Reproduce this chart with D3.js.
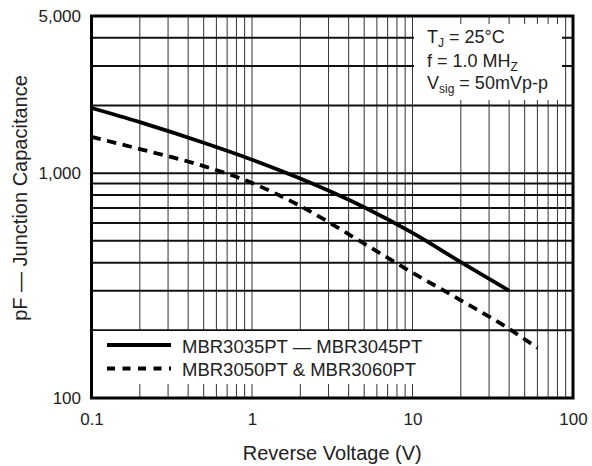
<!DOCTYPE html>
<html lang="en">
<head>
<meta charset="UTF-8">
<title>Junction Capacitance vs Reverse Voltage</title>
<script src="https://d3js.org/d3.v7.min.js"></script>
<style>
    body { margin: 0; background: #fff; }
    svg { display: block; font-family: "Liberation Sans", Arial, sans-serif; }
    .axis path, .axis line { display: none; }
    .axis text { font-size: 17px; fill: #222; font-family: "Liberation Sans", Arial, sans-serif; }
    .vgrid { stroke: #333; stroke-width: 1; }
    .hgrid { stroke: #111; stroke-width: 2; }
    .curve { fill: none; stroke: #000; stroke-width: 3.8; }
</style>
</head>
<body>
<div id="chart"></div>
<script>
// MBR3035PT — MBR3045PT (solid)
const voltsA = [0.1, 0.2, 0.5, 1, 2, 5, 10, 20, 40];
const capA   = [1950, 1686, 1365, 1148, 946, 705, 542, 402, 300];

// MBR3050PT & MBR3060PT (dashed)
const voltsB = [0.1, 0.2, 0.5, 1, 2, 5, 10, 20, 40, 60];
const capB   = [1450, 1280, 1075, 905, 714, 486, 361, 272, 203, 167];

const seriesNames = ['MBR3035PT \u2014 MBR3045PT', 'MBR3050PT & MBR3060PT'];

const xTickValues = [0.1, 1, 10, 100];
const xTickLabels = ['0.1', '1', '10', '100'];
const yTickValues = [100, 1000, 5000];
const yTickLabels = ['100', '1,000', '5,000'];

const W = 592, H = 466;
const plot = { left: 91.5, right: 573, top: 16, bottom: 398 };

const svg = d3.select('#chart').append('svg')
    .attr('width', W)
    .attr('height', H);

const x = d3.scaleLog().domain([0.1, 100]).range([plot.left, plot.right]);
const y = d3.scaleLog().domain([100, 5000]).range([plot.bottom, plot.top]);

// grid
const xGrid = x.ticks().filter(v => v > 0.1 && v < 100);
const yGrid = y.ticks().filter(v => v > 100 && v < 5000);

svg.append('g').selectAll('line')
    .data(xGrid)
  .enter().append('line')
    .attr('class', 'vgrid')
    .attr('x1', d => x(d)).attr('x2', d => x(d))
    .attr('y1', plot.top).attr('y2', plot.bottom);

svg.append('g').selectAll('line')
    .data(yGrid)
  .enter().append('line')
    .attr('class', 'hgrid')
    .attr('x1', plot.left).attr('x2', plot.right)
    .attr('y1', d => y(d)).attr('y2', d => y(d));

// white boxes behind the notes and legend
svg.append('rect')
    .attr('x', 414).attr('y', 24)
    .attr('width', 148).attr('height', 76)
    .attr('fill', '#fff');

svg.append('rect')
    .attr('x', plot.left).attr('y', 331)
    .attr('width', 440 - plot.left).attr('height', 53)
    .attr('fill', '#fff');

// curves
const line = d3.line()
    .x(d => x(d[0]))
    .y(d => y(d[1]))
    .curve(d3.curveMonotoneX);

svg.append('path')
    .datum(d3.zip(voltsA, capA))
    .attr('class', 'curve')
    .attr('d', line);

svg.append('path')
    .datum(d3.zip(voltsB, capB))
    .attr('class', 'curve')
    .attr('stroke-dasharray', '9.5,6.5')
    .attr('d', line);

// frame
svg.append('rect')
    .attr('x', plot.left).attr('y', plot.top)
    .attr('width', plot.right - plot.left)
    .attr('height', plot.bottom - plot.top)
    .attr('fill', 'none')
    .attr('stroke', '#000')
    .attr('stroke-width', 3);

// axes
svg.append('g')
    .attr('class', 'axis')
    .attr('transform', `translate(0,${plot.bottom})`)
    .call(d3.axisBottom(x)
        .tickValues(xTickValues)
        .tickFormat((d, i) => xTickLabels[i])
        .tickSize(0)
        .tickPadding(14.5));

svg.append('g')
    .attr('class', 'axis')
    .attr('transform', `translate(${plot.left},0)`)
    .call(d3.axisLeft(y)
        .tickValues(yTickValues)
        .tickFormat((d, i) => yTickLabels[i])
        .tickSize(0)
        .tickPadding(10.5));

// axis titles
svg.append('text')
    .attr('x', (plot.left + plot.right) / 2)
    .attr('y', 460)
    .attr('text-anchor', 'middle')
    .style('font-size', '20px')
    .style('fill', '#222')
    .text('Reverse Voltage (V)');

svg.append('text')
    .attr('transform', 'translate(27,198) rotate(-90)')
    .attr('text-anchor', 'middle')
    .style('font-size', '20px')
    .style('fill', '#222')
    .text('pF \u2014 Junction Capacitance');

// conditions note
const note = svg.append('g')
    .style('font-size', '18px')
    .style('fill', '#222');

const n1 = note.append('text').attr('x', 427).attr('y', 43);
n1.append('tspan').text('T');
n1.append('tspan').attr('dy', 4).style('font-size', '12px').text('J');
n1.append('tspan').attr('dy', -4).text(' = 25\u00B0C');

const n2 = note.append('text').attr('x', 427).attr('y', 66.5);
n2.append('tspan').text('f = 1.0 MH');
n2.append('tspan').attr('dy', 4).style('font-size', '12px').text('Z');

const n3 = note.append('text').attr('x', 427).attr('y', 88.5);
n3.append('tspan').text('V');
n3.append('tspan').attr('dy', 4).style('font-size', '12px').text('sig');
n3.append('tspan').attr('dy', -4).text(' = 50mVp-p');

// legend
const legend = svg.append('g');
const legendRows = [
    { name: seriesNames[0], y: 345, dash: null },
    { name: seriesNames[1], y: 368.5, dash: '8,7.5' }
];
legendRows.forEach(r => {
    legend.append('line')
        .attr('x1', 107).attr('x2', 171)
        .attr('y1', r.y).attr('y2', r.y)
        .attr('stroke', '#000')
        .attr('stroke-width', 3.8)
        .attr('stroke-dasharray', r.dash);
    legend.append('text')
        .attr('x', 182)
        .attr('y', r.y + 7.5)
        .style('font-size', '18.5px')
        .style('fill', '#222')
        .text(r.name);
});
</script>
</body>
</html>
